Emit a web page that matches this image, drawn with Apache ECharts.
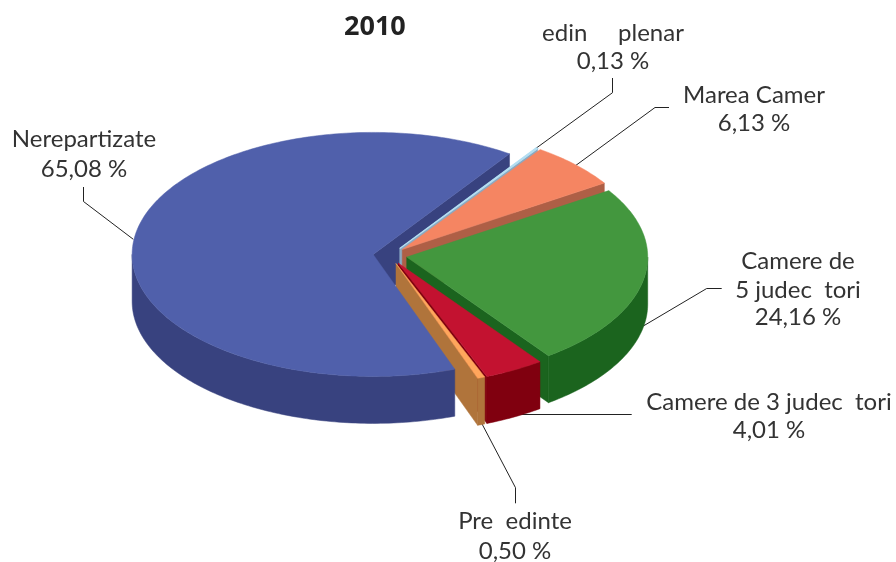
<!DOCTYPE html>
<html>
<head>
<meta charset="utf-8">
<title>2010</title>
<style>
    html, body { margin: 0; padding: 0; background: #fff; }
    #main { width: 896px; height: 562px; }
</style>
<script src="https://cdn.jsdelivr.net/npm/echarts@6/dist/echarts.min.js"></script>
</head>
<body>
<div id="main"></div>
<script>
// slices, clockwise from the front edge of the big blue one
var names = ['Nerepartizate', 'edin     plenar', 'Marea Camer', 'Camere de\n5 judec  tori', 'Camere de 3 judec  tori', 'Pre  edinte'];
var shares = [65.08, 0.13, 6.13, 24.16, 4.01, 0.50];

var topColors = ['#5060ab', '#b3def2', '#f58562', '#43973e', '#c31230', '#ffa65c'];
var wallColors = ['#38427f', '#8aa9c2', '#ae5f46', '#1b641e', '#80000f', '#b0743b'];

// fake 3d pie geometry
var cx = 390, cy = 255.5, rx = 241, ry = 122, depth = 47, explode = 17;
var firstAngle = -70.2;

// label centres and baselines, same order as names
var labelX = [84, 613, 754, 798, 769, 515];
var labelY = [[139, 169], [33, 61], [95, 123], [261, 290, 317], [402, 430], [521, 551]];

var leaders = [
    [[83.5, 187], [83.5, 201.5], [133.3, 239.3]],
    [[612.5, 78], [612.5, 92.7], [535, 149]],
    [[669, 107.5], [655, 107.5], [575, 166]],
    [[721.7, 288.5], [706.7, 288.5], [643.3, 326]],
    [[631.7, 414.5], [516.7, 414.5], [486, 421]],
    [[515.5, 503.3], [515.5, 487.7], [481.7, 423.3]]
];

var total = 0;
shares.forEach(function (v) { total += v; });

function rad(a) { return a * Math.PI / 180; }

function rim(ox, oy, a, drop) {
    return [ox + rx * Math.cos(rad(a)), oy - ry * Math.sin(rad(a)) + (drop || 0)];
}

function arcPoints(ox, oy, from, to, drop) {
    var pts = [];
    var n = Math.max(2, Math.ceil(Math.abs(to - from)));
    for (var k = 0; k <= n; k++) {
        pts.push(rim(ox, oy, from + (to - from) * k / n, drop));
    }
    return pts;
}

function poly(points, fill, z2, width) {
    return {
        type: 'polygon',
        z2: z2,
        shape: { points: points },
        style: { fill: fill, stroke: fill, lineWidth: width || 0.5 }
    };
}

function cutFace(ox, oy, a, fill) {
    var edge = rim(ox, oy, a);
    return poly([[ox, oy], edge, [edge[0], edge[1] + depth], [ox, oy + depth]], fill, 1);
}

function renderSlice(params, api) {
    var i = params.dataIndex;
    var before = 0;
    for (var j = 0; j < i; j++) before += shares[j];
    var hi = firstAngle - before / total * 360;
    var lo = hi - api.value(0) / total * 360;
    var mid = (hi + lo) / 2;
    var ox = cx + explode * Math.cos(rad(mid));
    var oy = cy - explode * ry / rx * Math.sin(rad(mid));
    var children = [];

    // cut faces that look at the viewer
    if (Math.sin(rad(hi + 90)) < 0) children.push(cutFace(ox, oy, hi, wallColors[i]));
    if (Math.sin(rad(lo - 90)) < 0) children.push(cutFace(ox, oy, lo, wallColors[i]));

    // outer wall, only the front half of the circle
    [[-180, 0], [-540, -360]].forEach(function (r) {
        var a = Math.max(lo, r[0]), b = Math.min(hi, r[1]);
        if (b > a) {
            var wall = arcPoints(ox, oy, a, b).concat(arcPoints(ox, oy, b, a, depth));
            children.push(poly(wall, wallColors[i], 2));
        }
    });

    // top, the hairline slice gets a fatter outline so it still shows
    var top = [[ox, oy]].concat(arcPoints(ox, oy, lo, hi));
    children.push(poly(top, topColors[i], 3, api.value(0) < 0.2 ? 1.2 : 0.5));

    return { type: 'group', children: children };
}

function percent(v) {
    return v.toFixed(2).replace('.', ',') + ' %';
}

var graphics = [];
names.forEach(function (name, i) {
    var lines = name.split('\n').concat(percent(shares[i]));
    lines.forEach(function (line, k) {
        graphics.push({
            type: 'text',
            x: labelX[i],
            y: labelY[i][k],
            z: 5,
            style: {
                text: line,
                fill: '#333',
                font: '24px Lato',
                textAlign: 'center',
                textVerticalAlign: 'middle'
            }
        });
    });
    graphics.push({
        type: 'polyline',
        z: 0,
        shape: { points: leaders[i] },
        style: { stroke: '#222', lineWidth: 1, fill: null }
    });
});

var myChart = echarts.init(document.getElementById('main'), null, { renderer: 'canvas' });
myChart.setOption({
    animation: false,
    backgroundColor: '#fff',
    title: {
        text: '2010',
        left: 339,
        top: 9,
        textStyle: { fontFamily: 'Open Sans', fontWeight: 'bold', fontSize: 27, color: '#222' }
    },
    graphic: graphics,
    series: [{
        type: 'custom',
        coordinateSystem: 'none',
        silent: true,
        z: 2,
        renderItem: renderSlice,
        data: shares.map(function (v) { return [v]; })
    }]
});
</script>
</body>
</html>
